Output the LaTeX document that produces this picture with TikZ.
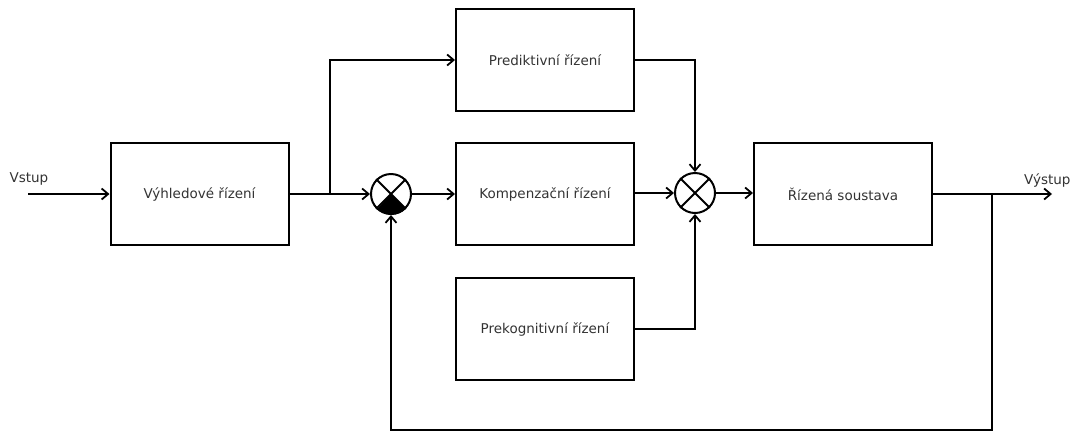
\documentclass[tikz,border=0pt]{standalone}
\usepackage{fontspec}
\setmainfont{DejaVu Sans}
\usetikzlibrary{arrows.meta}
\begin{document}
\begin{tikzpicture}[x=1pt,y=-1pt,
  blok/.style={draw, line width=2pt, minimum width=178pt, minimum height=102pt, inner sep=0pt, font=\fontsize{13.5}{15}\selectfont, text=black!80},
  sumator/.style={draw, line width=2pt, circle, minimum size=40pt, inner sep=0pt},
  spoj/.style={line width=2pt},
  sip/.style={spoj, -{Straight Barb[length=6.5pt,width=11pt,line width=1.8pt]}},
  popis/.style={font=\fontsize{13.5}{15}\selectfont, text=black!80}]
\useasboundingbox (0,0) rectangle (1076,432);
\node[blok] (vyhled) at (199.5,194) {Výhledové řízení};
\node[blok] (pred) at (545,60) {Prediktivní řízení};
\node[blok] (komp) at (545,194) {Kompenzační řízení};
\node[blok] (prek) at (545,329) {Prekognitivní řízení};
\node[blok] (sous) at (843,194) {Řízená soustava};
\node[sumator] (s1) at (391,194) {};
\node[sumator] (s2) at (695,193) {};
% bottom wedge of the first summing junction
\fill (s1.center) -- (s1.-45) arc (-45:-135:20pt) -- cycle;
\draw[spoj] (s1.45) -- (s1.-135) (s1.135) -- (s1.-45);
\draw[spoj] (s2.45) -- (s2.-135) (s2.135) -- (s2.-45);
\coordinate (vstup) at (28,194);
\coordinate (vystup) at (1052,194);
\coordinate (vetev) at (330,194);
\coordinate (odber) at (992,194);
\node[popis, anchor=south west] (tv) at (6,189) {Vstup};
\node[popis, anchor=south east] (tvy) at (1074,191) {Výstup};
\draw[sip] (vstup) -- (vyhled.west);
\draw[spoj] (vyhled.east) -- (vetev);
\draw[sip] (vetev) -- (s1.west);
\draw[sip] (vetev) |- (pred.west);
\draw[sip] (s1.east) -- (komp.west);
\draw[sip] (komp.east |- s2) -- (s2.west);
\draw[sip] (pred.east) -| (s2.north);
\draw[sip] (prek.east) -| (s2.south);
\draw[sip] (s2.east) -- (sous.west |- s2);
\draw[sip] (sous.east) -- (vystup);
\draw[sip] (odber) -- (992,430) -| (s1.south);
\end{tikzpicture}
\end{document}
